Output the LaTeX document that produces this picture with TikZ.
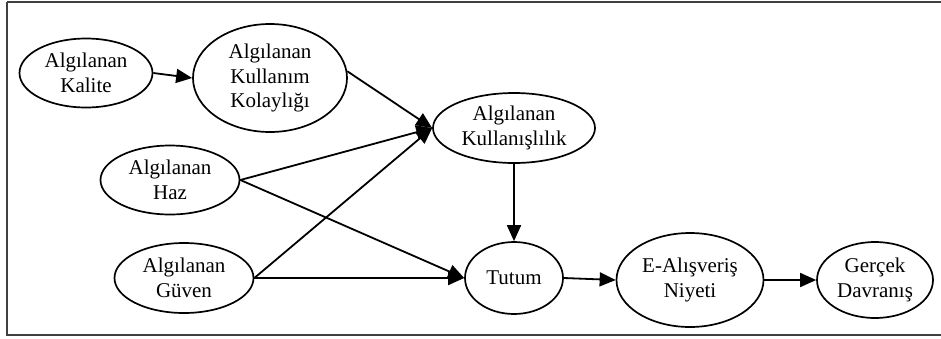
\documentclass[tikz,border=0pt]{standalone}
\usepackage{fontspec}
\setmainfont{Liberation Serif}
\usetikzlibrary{arrows.meta,shapes.geometric}
\begin{document}
\begin{tikzpicture}[x=1pt,y=-1pt,
  ell/.style={draw, line width=1.7pt, ellipse, inner sep=0pt, align=center,
    font=\fontsize{21}{24.5}\selectfont},
  arr/.style={line width=1.8pt, -{Triangle[length=16pt 0,width=14pt 0]}}]
\useasboundingbox (0,0) rectangle (941,338);
\draw[line width=2pt, draw=black!75] (7,2) -- (950,2) (7,2) -- (7,335) -- (950,335);
\node[ell, minimum width=133, minimum height=69] (kal) at (86,73) {Algılanan\\Kalite};
\node[ell, minimum width=154, minimum height=108] (kol) at (270,78) {Algılanan\\Kullanım\\Kolaylığı};
\node[ell, minimum width=162, minimum height=70] (kul) at (514,128) {Algılanan\\Kullanışlılık};
\node[ell, minimum width=139, minimum height=69] (haz) at (170,180) {Algılanan\\Haz};
\node[ell, minimum width=139, minimum height=70] (guv) at (184,278) {Algılanan\\Güven};
\node[ell, minimum width=98, minimum height=72] (tut) at (514,278) {Tutum};
\node[ell, minimum width=147, minimum height=94] (niy) at (690,280) {E-Alışveriş\\Niyeti};
\node[ell, minimum width=116, minimum height=76] (ger) at (875,280) {Gerçek\\Davranış};
\draw[arr] (kal.east) -- (kol.west);
\draw[arr] (kol.5) -- (kul.west);
\draw[arr] (haz.east) -- (kul.west);
\draw[arr] (guv.east) -- (kul.west);
\draw[arr] (haz.east) -- (tut.west);
\draw[arr] (guv.east) -- (tut.west);
\draw[arr] (kul.south) -- (tut.north);
\draw[arr] (tut.east) -- (niy.west);
\draw[arr] (niy.east) -- (ger.west);
\end{tikzpicture}
\end{document}
